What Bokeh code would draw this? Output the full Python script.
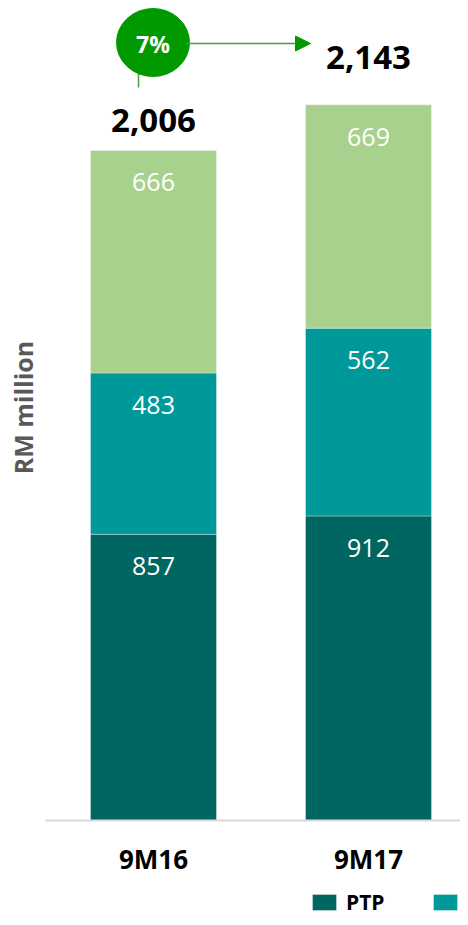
import math
from bokeh.plotting import figure
from bokeh.models import ColumnDataSource, Range1d, Legend, LegendItem, Arrow, NormalHead, Label
from bokeh.core.properties import value
from bokeh.embed import file_html
from bokeh.resources import INLINE

# ---- data ----
categories = ["9M16", "9M17"]
ptp = [857, 912]
second = [483, 562]
third = [666, 669]
totals = [2006, 2143]
growth_label = "7%"
y_title = "RM million"
legend_labels = ["PTP", ""]

colors = ["#006662", "#009999", "#A9D18E"]
FONT = "Open Sans"

W, H = 460, 917
PXU = 0.334          # px per RM million
PXC = 215            # px per category step
BASE_IMG = 820       # baseline image y
X0_IMG = 153         # image x of first category
OFF = 0              # canvas origin in image pixels


def dx(img_x):
    return (img_x - X0_IMG) / PXC


def dy(img_y):
    return (BASE_IMG - img_y) / PXU


p = figure(width=W, height=H, output_backend="svg", toolbar_location=None,
           x_range=Range1d(dx(OFF), dx(OFF + W)), y_range=Range1d(dy(OFF + H), dy(OFF)),
           x_axis_location=None, y_axis_location=None, title=None, min_border=0)
p.grid.visible = False
p.outline_line_color = None
p.background_fill_color = "white"
p.border_fill_color = "white"

xs = list(range(len(categories)))
src = ColumnDataSource(dict(x=xs, cat=categories, ptp=ptp, second=second, third=third))

rs = p.vbar_stack(["ptp", "second", "third"], x="x", width=126 / PXC, color=colors,
                  line_color="white", line_alpha=0.35, line_width=1, source=src)

# segment labels
b1 = ptp
b2 = [a + b for a, b in zip(ptp, second)]
b3 = [a + b for a, b in zip(b2, third)]
seg_src = ColumnDataSource(dict(
    x=xs * 3,
    y=b1 + b2 + b3,
    t=[str(v) for v in ptp + second + third],
))
p.text(x="x", y="y", text="t", source=seg_src, text_align="center", text_baseline="middle",
       y_offset=32, text_color="white", text_font=value(FONT), text_font_size="25px")

# totals
tot_offsets = [-30, -47]
tot_src = ColumnDataSource(dict(x=xs, y=totals, t=[f"{t:,}" for t in totals], off=tot_offsets))
p.text(x="x", y="y", text="t", source=tot_src, y_offset="off",
       text_align="center", text_baseline="middle", text_color="black",
       text_font=value(FONT), text_font_size="33px", text_font_style="bold")

# baseline
p.segment(x0=[dx(45)], y0=[0], x1=[dx(468)], y1=[0], line_color="#D9D9D9", line_width=2)

# category labels
p.text(x="x", y=0, text="cat", source=src, y_offset=38, text_align="center",
       text_baseline="middle", text_color="black", text_font=value(FONT),
       text_font_size="26px", text_font_style="bold")

# y title
p.add_layout(Label(x=dx(22), y=dy(407), text=y_title, angle=math.pi / 2,
                   text_align="center", text_baseline="middle", text_color="#595959",
                   text_font=FONT, text_font_size="25px", text_font_style="bold"))

# growth bubble and arrow
green = "#009900"
p.segment(x0=[dx(138)], y0=[dy(72)], x1=[dx(138)], y1=[dy(87)], line_color="#3FA33F", line_width=1.5)
p.add_layout(Arrow(x_start=dx(185), y_start=dy(43), x_end=dx(310), y_end=dy(43),
                   line_color="#3FA33F", line_width=1.5,
                   end=NormalHead(size=15, fill_color=green, line_color=green)))
p.ellipse(x=[dx(152.5)], y=[dy(42)], width=73, height=68, width_units="screen",
          height_units="screen", fill_color=green, line_color=green)
p.text(x=[dx(152.5)], y=[dy(43)], text=[growth_label], text_align="center",
       text_baseline="middle", text_color="white", text_font=value(FONT),
       text_font_size="23px", text_font_style="bold")

# legend (sits at the bottom edge like the reference)
legend = Legend(items=[LegendItem(label=value(legend_labels[0]), renderers=[rs[0]]),
                       LegendItem(label=value(legend_labels[1]), renderers=[rs[1]])],
                orientation="horizontal", location=(309 - OFF, 1),
                glyph_width=30, glyph_height=20, label_height=20, label_width=70,
                label_standoff=7, spacing=14, padding=0, margin=0,
                border_line_color=None, background_fill_alpha=0,
                label_text_font=FONT, label_text_font_size="21px",
                label_text_font_style="bold", label_text_color="black")
p.add_layout(legend)

open("out.html", "w").write(file_html(p, INLINE))
